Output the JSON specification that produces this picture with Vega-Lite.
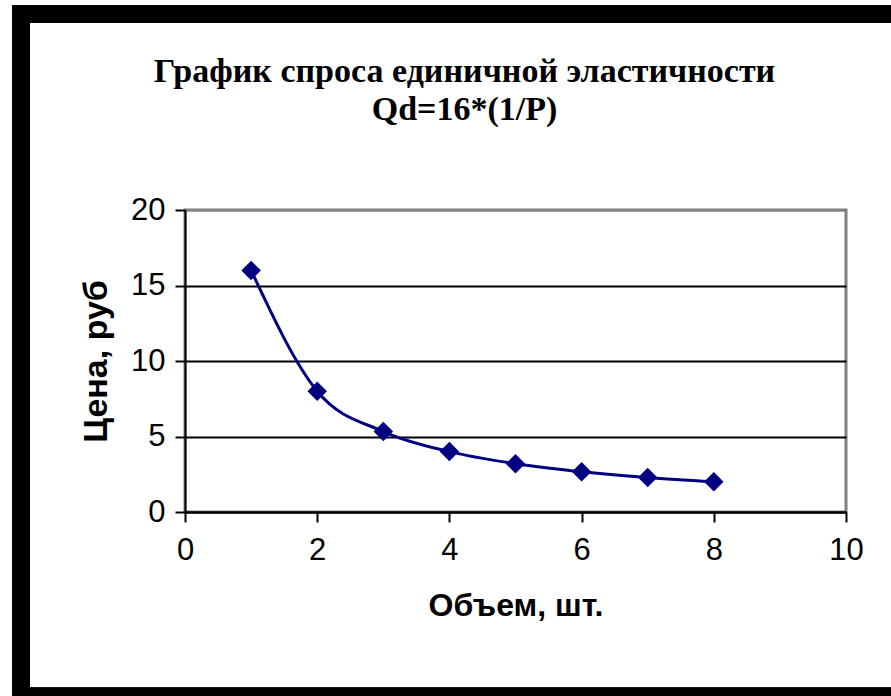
{
  "$schema": "https://vega.github.io/schema/vega-lite/v6.json",
  "width": 661,
  "height": 302,
  "autosize": {"type": "none"},
  "padding": {"left": 185, "top": 210, "right": 45, "bottom": 184},
  "background": "white",
  "title": {
    "text": ["График спроса единичной эластичности", "Qd=16*(1/P)"],
    "font": "Liberation Serif",
    "fontSize": 34,
    "fontWeight": "bold",
    "color": "#000000",
    "anchor": "middle",
    "frame": "group",
    "dx": -51,
    "offset": -121,
    "lineHeight": 38
  },
  "data": {
    "values": [
      {"q": 1, "p": 16},
      {"q": 2, "p": 8},
      {"q": 3, "p": 5.33},
      {"q": 4, "p": 4},
      {"q": 5, "p": 3.2},
      {"q": 6, "p": 2.67},
      {"q": 7, "p": 2.29},
      {"q": 8, "p": 2}
    ]
  },
  "config": {
    "view": {"stroke": "#808080", "strokeWidth": 3},
    "axis": {
      "labelFont": "Liberation Sans",
      "labelFontSize": 31,
      "labelColor": "#000000",
      "titleFont": "Liberation Sans",
      "titleFontSize": 32,
      "titleFontWeight": "bold",
      "titleColor": "#000000",
      "domainColor": "#000000",
      "domainWidth": 2,
      "tickColor": "#000000",
      "tickWidth": 2,
      "tickSize": 10
    }
  },
  "layer": [
    {
      "mark": {"type": "rect", "fill": null, "stroke": "#000000", "strokeWidth": 17, "clip": false},
      "encoding": {
        "x": {"datum": -2.48, "type": "quantitative", "scale": {"domain": [0, 10]}, "title": "Объем, шт."},
        "x2": {"datum": 10.82},
        "y": {"datum": 32.98, "type": "quantitative", "scale": {"domain": [0, 20]}, "title": "Цена, руб"},
        "y2": {"datum": -12.2}
      }
    },
    {
      "mark": {"type": "line", "color": "#000080", "strokeWidth": 3, "interpolate": "monotone"},
      "encoding": {
        "x": {
          "field": "q", "type": "quantitative",
          "scale": {"domain": [0, 10], "nice": false},
          "title": "Объем, шт.",
          "axis": {"values": [0, 2, 4, 6, 8, 10], "format": "d", "grid": false, "labelPadding": 13, "titlePadding": 25, "labelFlush": false}
        },
        "y": {
          "field": "p", "type": "quantitative",
          "scale": {"domain": [0, 20], "nice": false},
          "title": "Цена, руб",
          "axis": {
            "values": [0, 5, 10, 15, 20],
            "format": "d",
            "grid": true,
            "gridColor": {"condition": {"test": "datum.value == 20", "value": "#808080"}, "value": "#000000"},
            "gridWidth": 2,
            "labelPadding": 10,
            "titlePadding": 17,
            "titleFontSize": 34,
            "labelFlush": false
          }
        }
      }
    },
    {
      "mark": {"type": "point", "shape": "diamond", "filled": true, "color": "#000080", "size": 380, "opacity": 1},
      "encoding": {
        "x": {"field": "q", "type": "quantitative", "title": "Объем, шт."},
        "y": {"field": "p", "type": "quantitative", "title": "Цена, руб"}
      }
    }
  ]
}
